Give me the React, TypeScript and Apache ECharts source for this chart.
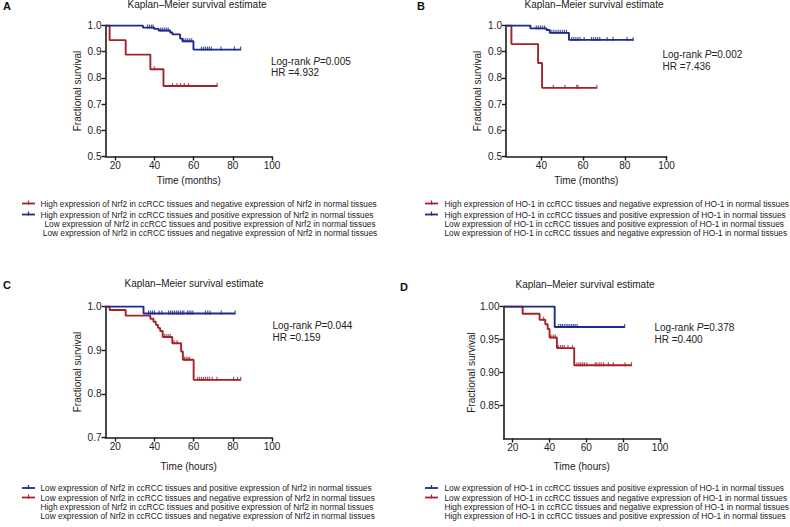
import React, { useEffect, useRef } from "react";
import * as echarts from "echarts";

const FONT = "'Liberation Sans', Arial, Helvetica, sans-serif";
const RED = "#a2232b";
const BLUE = "#1e2a8c";
const INK = "#1a1a1a";

// ---------- Panel A (Nrf2, months) ----------
const aRedT = [15, 17.1, 25.3, 37.9, 44.6, 72];
const aRedS = [1, 0.944, 0.889, 0.833, 0.769, 0.769];
const aRedC = [39.9, 49.2, 51.5, 53.3, 55.2, 57.4, 72];
const aBlueT = [15, 34.1, 39.9, 42.1, 48, 49.2, 53.1, 54.3, 59.9, 84];
const aBlueS = [1, 0.992, 0.987, 0.981, 0.973, 0.966, 0.95, 0.94, 0.908, 0.908];
const aBlueC = [36.5, 37.5, 38.5, 39.3, 43, 44, 45, 46, 47, 55, 56, 57, 58, 59, 64, 65, 66, 67, 68, 69, 74, 80.8, 84];

// ---------- Panel B (HO-1, months) ----------
const bRedT = [23, 25.6, 38.4, 40.3, 66.6];
const bRedS = [1, 0.929, 0.857, 0.762, 0.762];
const bRedC = [45.7, 51.3, 56.9, 57.6, 66.6];
const bBlueT = [23, 34.7, 42.4, 44, 53.2, 84];
const bBlueS = [1, 0.989, 0.983, 0.972, 0.945, 0.945];
const bBlueC = [37.5, 38.5, 39.5, 40.5, 41.5, 45, 46, 47, 48, 49, 50, 51, 52, 54.5, 55.5, 56.5, 57.5, 58.5, 60.5, 64, 65, 66, 67, 68, 71.5, 74.4, 81.1, 84];

// ---------- Panel C (Nrf2, hours) ----------
const cRedT = [15, 17.1, 25.3, 37.9, 39.5, 40.7, 41.8, 42.9, 44.2, 49.1, 53.6, 54.5, 60, 84];
const cRedS = [1, 0.992, 0.979, 0.972, 0.965, 0.958, 0.951, 0.944, 0.93, 0.916, 0.897, 0.878, 0.832, 0.832];
const cRedC = [45, 46, 47, 48, 50, 51.5, 55.3, 56.2, 57.1, 58, 62, 63, 64, 65, 66, 67, 68, 69.5, 71.9, 80.4, 82.4, 84];
const cBlueT = [15, 34.4, 81.2];
const cBlueS = [1, 0.984, 0.984];
const cBlueC = [37, 38, 39, 40, 42.4, 43.7, 47.2, 48.2, 49.2, 50.2, 51.2, 52.2, 53.2, 54.2, 55, 56.8, 57.7, 58.6, 59.6, 66, 67.2, 68.4, 74.1, 81.2];

// ---------- Panel D (HO-1, hours) ----------
const dRedT = [15, 25.4, 34.6, 37.7, 39, 40, 44, 53.4, 84.5];
const dRedS = [1, 0.989, 0.98, 0.973, 0.966, 0.953, 0.937, 0.911, 0.911];
const dRedC = [36.8, 40.8, 42, 43.1, 44.9, 46, 47, 48, 50, 52.5, 54.9, 56, 57, 58, 59, 60.3, 64.8, 65.7, 67, 68, 69.3, 72, 74.7, 81, 84.5];
const dBlueT = [15, 42.8, 80.8];
const dBlueS = [1, 0.969, 0.969];
const dBlueC = [45, 46, 47, 48, 49, 50, 51, 52, 53, 54, 55, 80.8];

// ---------- Tick labels ----------
const xTicksA = [20, 40, 60, 80, 100];
const xTicksB = [40, 60, 80, 100];
const yTicksAB = [0.5, 0.6, 0.7, 0.8, 0.9, 1.0];
const yTicksC = [0.7, 0.8, 0.9, 1.0];
const yTicksD = [0.85, 0.9, 0.95, 1.0];

// ---------- Texts ----------
const TITLE = "Kaplan–Meier survival estimate";
const Y_NAME = "Fractional survival";
const statsP = ["0.005", "0.002", "0.044", "0.378"];
const statsHR = ["4.932", "7.436", "0.159", "0.400"];
const legendA = [
  "High expression of Nrf2 in ccRCC tissues and negative expression of Nrf2 in normal tissues",
  "High expression of Nrf2 in ccRCC tissues and positive expression of Nrf2 in normal tissues",
  "Low expression of Nrf2 in ccRCC tissues and positive expression of Nrf2 in normal tissues",
  "Low expression of Nrf2 in ccRCC tissues and negative expression of Nrf2 in normal tissues",
];
const legendB = [
  "High expression of HO-1 in ccRCC tissues and negative expression of HO-1 in normal tissues",
  "High expression of HO-1 in ccRCC tissues and positive expression of HO-1 in normal tissues",
  "Low expression of HO-1 in ccRCC tissues and positive expression of HO-1 in normal tissues",
  "Low expression of HO-1 in ccRCC tissues and negative expression of HO-1 in normal tissues",
];
const legendC = [
  "Low expression of Nrf2 in ccRCC tissues and positive expression of Nrf2 in normal tissues",
  "Low expression of Nrf2 in ccRCC tissues and negative expression of Nrf2 in normal tissues",
  "High expression of Nrf2 in ccRCC tissues and positive expression of Nrf2 in normal tissues",
  "Low expression of Nrf2 in ccRCC tissues and negative expression of Nrf2 in normal tissues",
];
const legendD = [
  "Low expression of HO-1 in ccRCC tissues and positive expression of HO-1 in normal tissues",
  "Low expression of HO-1 in ccRCC tissues and negative expression of HO-1 in normal tissues",
  "High expression of HO-1 in ccRCC tissues and negative expression of HO-1 in normal tissues",
  "High expression of HO-1 in ccRCC tissues and positive expression of HO-1 in normal tissues",
];

function stepData(t: number[], s: number[]) {
  return t.map((x, i) => [x, s[i]]);
}
function censorData(c: number[], t: number[], s: number[]) {
  return c.map((x) => {
    let v = s[0];
    for (let i = 0; i < t.length; i++) if (t[i] <= x) v = s[i];
    return [x, v];
  });
}

type Panel = {
  letter: string;
  grid: { left: number; top: number; width: number; height: number };
  xMin: number;
  xTicks: number[];
  xName: string;
  xGap: number;
  yMin: number;
  yTicks: number[];
  yDec: number;
  yGap: number;
  red: [number[], number[], number[]];
  blue: [number[], number[], number[]];
  letterPos: [number, number];
  titlePos: [number, number];
  statPos: [number, number];
  legend: string[];
  legendColors: (string | null)[];
  legendRows: number[];
  legendSymX: number;
  legendTextX: number;
  centerLast: number | null;
};

const panels: Panel[] = [
  {
    letter: "A",
    grid: { left: 105.5, top: 25.5, width: 166.5, height: 131 },
    xMin: 15, xTicks: xTicksA, xName: "Time (months)", xGap: 19,
    yMin: 0.5, yTicks: yTicksAB, yDec: 1, yGap: 23.5,
    red: [aRedT, aRedS, aRedC], blue: [aBlueT, aBlueS, aBlueC],
    letterPos: [3, 6], titlePos: [197, 5], statPos: [271, 61],
    legend: legendA, legendColors: [RED, BLUE, null, null],
    legendRows: [203.5, 214.5, 223.5, 232.5], legendSymX: 22, legendTextX: 40.5, centerLast: 210,
  },
  {
    letter: "B",
    grid: { left: 506, top: 25.5, width: 160.5, height: 131 },
    xMin: 23, xTicks: xTicksB, xName: "Time (months)", xGap: 19,
    yMin: 0.5, yTicks: yTicksAB, yDec: 1, yGap: 23.5,
    red: [bRedT, bRedS, bRedC], blue: [bBlueT, bBlueS, bBlueC],
    letterPos: [417, 6], titlePos: [594, 5], statPos: [662.5, 54.5],
    legend: legendB, legendColors: [RED, BLUE, null, null],
    legendRows: [203.5, 214.5, 223.5, 232.5], legendSymX: 425, legendTextX: 444.5, centerLast: null,
  },
  {
    letter: "C",
    grid: { left: 105.5, top: 306.5, width: 166.5, height: 131 },
    xMin: 15, xTicks: xTicksA, xName: "Time (hours)", xGap: 23.5,
    yMin: 0.7, yTicks: yTicksC, yDec: 1, yGap: 23.5,
    red: [cRedT, cRedS, cRedC], blue: [cBlueT, cBlueS, cBlueC],
    letterPos: [3, 285], titlePos: [194, 284], statPos: [272.5, 325.5],
    legend: legendC, legendColors: [BLUE, RED, null, null],
    legendRows: [488, 497.5, 506.5, 516], legendSymX: 22, legendTextX: 40.5, centerLast: null,
  },
  {
    letter: "D",
    grid: { left: 503.5, top: 306.5, width: 156.5, height: 132 },
    xMin: 15, xTicks: xTicksA, xName: "Time (hours)", xGap: 23,
    yMin: 0.8, yTicks: yTicksD, yDec: 2, yGap: 23.5,
    red: [dRedT, dRedS, dRedC], blue: [dBlueT, dBlueS, dBlueC],
    letterPos: [400, 287], titlePos: [585, 285.5], statPos: [654.5, 327.5],
    legend: legendD, legendColors: [BLUE, RED, null, null],
    legendRows: [488, 497.5, 506.5, 515.5], legendSymX: 425, legendTextX: 444.5, centerLast: null,
  },
];

function buildOption() {
  const grid: any[] = [];
  const xAxis: any[] = [];
  const yAxis: any[] = [];
  const series: any[] = [];
  const graphic: any[] = [];
  const title: any[] = [];

  panels.forEach((p, i) => {
    grid.push({ ...p.grid, containLabel: false, outerBoundsMode: "none" });
    xAxis.push({
      gridIndex: i,
      type: "value",
      min: p.xMin,
      max: 100,
      axisLine: { show: true, onZero: false, lineStyle: { color: INK, width: 1.6 } },
      axisTick: { show: true, length: 4, customValues: p.xTicks, lineStyle: { color: INK, width: 1.4 } },
      axisLabel: { customValues: p.xTicks, fontSize: 10, color: "#222", margin: 4, fontFamily: FONT },
      splitLine: { show: false },
      name: p.xName,
      nameLocation: "middle",
      nameGap: p.xGap,
      nameTextStyle: { fontSize: 10, color: "#222", fontFamily: FONT },
    });
    yAxis.push({
      gridIndex: i,
      type: "value",
      min: p.yMin,
      max: 1,
      axisLine: { show: true, onZero: false, lineStyle: { color: INK, width: 1.6 } },
      axisTick: { show: true, length: 4, customValues: p.yTicks, lineStyle: { color: INK, width: 1.4 } },
      axisLabel: {
        customValues: p.yTicks,
        fontSize: 10,
        color: "#222",
        margin: 4,
        fontFamily: FONT,
        formatter: (v: number) => v.toFixed(p.yDec),
      },
      splitLine: { show: false },
      name: Y_NAME,
      nameLocation: "middle",
      nameRotate: 90,
      nameGap: p.yGap,
      nameTextStyle: { fontSize: 10, color: "#222", fontFamily: FONT },
    });

    const groups: [string, [number[], number[], number[]], number][] = [
      ["red", p.red, 2],
      ["blue", p.blue, 4],
    ];
    groups.forEach(([name, [t, s, c], z]) => {
      const color = name === "red" ? RED : BLUE;
      series.push({
        type: "line",
        name: p.letter + "-" + name,
        xAxisIndex: i,
        yAxisIndex: i,
        data: stepData(t, s),
        step: "end",
        showSymbol: false,
        symbol: "none",
        silent: true,
        z,
        lineStyle: { color, width: 1.9 },
        itemStyle: { color },
      });
      series.push({
        type: "scatter",
        name: p.letter + "-" + name + "-censor",
        xAxisIndex: i,
        yAxisIndex: i,
        data: censorData(c, t, s),
        symbol: "rect",
        symbolSize: [1.2, 4],
        symbolOffset: [0, -1],
        silent: true,
        z: z + 1,
        itemStyle: { color },
      });
    });

    title.push({
      text: TITLE,
      left: p.titlePos[0],
      top: p.titlePos[1] - 6,
      textAlign: "center",
      padding: 0,
      textStyle: { fontSize: 10, fontWeight: "normal", color: "#222", fontFamily: FONT },
    });

    graphic.push({
      type: "text",
      x: p.letterPos[0],
      y: p.letterPos[1],
      style: {
        text: p.letter,
        font: `bold 11px ${FONT}`,
        fill: "#111",
        textAlign: "left",
        textVerticalAlign: "middle",
        align: "left",
        verticalAlign: "middle",
      },
    });
    graphic.push({
      type: "text",
      x: p.statPos[0],
      y: p.statPos[1],
      style: {
        text: `{a|Log-rank }{i|P}{a|=${statsP[i]}}`,
        rich: {
          a: { fontSize: 10, fontFamily: FONT, fill: "#222", color: "#222" },
          i: { fontSize: 10, fontFamily: FONT, fontStyle: "italic", fill: "#222", color: "#222" },
        },
        textAlign: "left",
        textVerticalAlign: "middle",
        align: "left",
        verticalAlign: "middle",
      },
    });
    graphic.push({
      type: "text",
      x: p.statPos[0],
      y: p.statPos[1] + 11.5,
      style: {
        text: `HR =${statsHR[i]}`,
        font: `10px ${FONT}`,
        fill: "#222",
        textAlign: "left",
        textVerticalAlign: "middle",
        align: "left",
        verticalAlign: "middle",
      },
    });

    p.legend.forEach((txt, r) => {
      const y = p.legendRows[r];
      const col = p.legendColors[r];
      if (col) {
        graphic.push({
          type: "line",
          shape: { x1: p.legendSymX, y1: y, x2: p.legendSymX + 13, y2: y },
          style: { stroke: col, lineWidth: 1.8 },
        });
        graphic.push({
          type: "line",
          shape: { x1: p.legendSymX + 6.5, y1: y - 3, x2: p.legendSymX + 6.5, y2: y + 1 },
          style: { stroke: col, lineWidth: 1.2 },
        });
      }
      const centered = !col && p.centerLast !== null;
      graphic.push({
        type: "text",
        x: centered ? (p.centerLast as number) : p.legendTextX,
        y,
        style: {
          text: txt,
          font: `8.3px ${FONT}`,
          fill: "#222",
          textAlign: centered ? "center" : "left",
          textVerticalAlign: "middle",
          align: centered ? "center" : "left",
          verticalAlign: "middle",
        },
      });
    });
  });

  return {
    animation: false,
    backgroundColor: "#ffffff",
    textStyle: { fontFamily: FONT },
    title,
    grid,
    xAxis,
    yAxis,
    series,
    graphic,
    tooltip: { show: false },
  };
}

export default function App() {
  const ref = useRef<HTMLDivElement>(null);
  useEffect(() => {
    document.body.style.margin = "0";
    if (!ref.current) return;
    const chart = echarts.init(ref.current, null, { renderer: "svg" });
    chart.setOption(buildOption());
    return () => chart.dispose();
  }, []);
  return (
    <div
      ref={ref}
      style={{ position: "fixed", left: 0, top: 0, width: 790, height: 527, background: "#fff" }}
    />
  );
}
